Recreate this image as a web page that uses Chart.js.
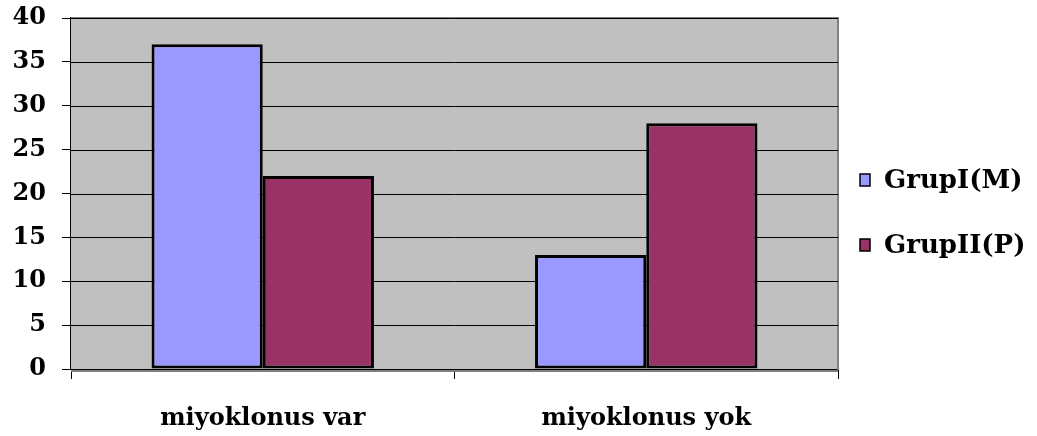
<!DOCTYPE html>
<html>
<head>
<meta charset="utf-8">
<style>
  html, body { margin: 0; padding: 0; background: #ffffff; }
  #wrap { width: 1037px; height: 436px; }
</style>
<script src="https://cdn.jsdelivr.net/npm/chart.js@4/dist/chart.umd.min.js"></script>
</head>
<body>
<div id="wrap"><canvas id="c" width="1037" height="436"></canvas></div>
<script>
const categories = ['miyoklonus var', 'miyoklonus yok'];
const grupI = [37, 13];
const grupII = [22, 28];
const seriesNames = ['GrupI(M)', 'GrupII(P)'];
const seriesColors = ['#9999FF', '#993366'];
const yTicks = [0, 5, 10, 15, 20, 25, 30, 35, 40];

const FONT = "'DejaVu Serif', 'Liberation Serif', serif";

// gray plot background plus a darker frame on top and right
const plotFrame = {
  id: 'plotFrame',
  beforeDatasetsDraw(chart) {
    const { ctx, chartArea: a } = chart;
    ctx.save();
    ctx.fillStyle = '#C0C0C0';
    ctx.fillRect(a.left, a.top, a.right - a.left, a.bottom - a.top);
    ctx.strokeStyle = '#808080';
    ctx.lineWidth = 2;
    ctx.beginPath();
    ctx.moveTo(a.left, a.top);
    ctx.lineTo(a.right, a.top);
    ctx.lineTo(a.right, a.bottom + 1);
    ctx.stroke();
    ctx.beginPath();
    ctx.moveTo(a.left, a.bottom + 2);
    ctx.lineTo(a.right, a.bottom + 2);
    ctx.stroke();
    // horizontal gridlines drawn over the fill
    const y = chart.scales.y;
    ctx.strokeStyle = '#000000';
    ctx.lineWidth = 1;
    yTicks.forEach(v => {
      if (v === 0) return;
      const py = Math.round(y.getPixelForValue(v)) + 0.5;
      ctx.beginPath();
      ctx.moveTo(a.left, py);
      ctx.lineTo(a.right, py);
      ctx.stroke();
    });
    ctx.restore();
  }
};

// legend on the right, one row per dataset
const sideLegend = {
  id: 'sideLegend',
  afterDraw(chart) {
    const { ctx } = chart;
    const rows = [180, 245];
    ctx.save();
    chart.data.datasets.forEach((ds, i) => {
      const cy = rows[i];
      ctx.fillStyle = ds.backgroundColor;
      ctx.fillRect(860, cy - 6, 10, 12);
      ctx.strokeStyle = '#000000';
      ctx.lineWidth = 1.5;
      ctx.strokeRect(860, cy - 6, 10, 12);
      ctx.fillStyle = '#000000';
      ctx.font = 'bold 26px ' + FONT;
      ctx.textBaseline = 'middle';
      ctx.textAlign = 'left';
      ctx.fillText(ds.label, 884, cy + 1);
    });
    ctx.restore();
  }
};

new Chart(document.getElementById('c'), {
  type: 'bar',
  data: {
    labels: categories,
    datasets: [
      { label: seriesNames[0], data: grupI, backgroundColor: seriesColors[0] },
      { label: seriesNames[1], data: grupII, backgroundColor: seriesColors[1] }
    ]
  },
  options: {
    responsive: false,
    animation: false,
    devicePixelRatio: 1,
    layout: { padding: { left: 0, top: 18, right: 199, bottom: 0 } },
    datasets: {
      bar: {
        borderColor: '#000000',
        borderWidth: 3,
        borderSkipped: false,
        categoryPercentage: 0.58,
        barPercentage: 1.0
      }
    },
    plugins: {
      legend: { display: false },
      tooltip: { enabled: false }
    },
    scales: {
      x: {
        offset: true,
        grid: {
          offset: true,
          drawOnChartArea: false,
          drawTicks: true,
          tickLength: 10,
          color: '#000000',
          lineWidth: 1
        },
        border: { display: true, color: '#000000', width: 2 },
        ticks: {
          color: '#000000',
          font: { family: FONT, size: 24, weight: 'bold' },
          padding: 25,
          maxRotation: 0
        },
        afterFit(scale) {
          scale.height = 67;
          scale.paddingLeft = 0;
          scale.paddingRight = 0;
        }
      },
      y: {
        min: 0,
        max: 40,
        afterBuildTicks(scale) { scale.ticks = yTicks.map(v => ({ value: v })); },
        grid: {
          drawOnChartArea: false,
          drawTicks: true,
          tickLength: 9,
          color: '#000000',
          lineWidth: 1
        },
        border: { display: true, color: '#000000', width: 2 },
        ticks: {
          color: '#000000',
          font: { family: FONT, size: 24, weight: 'bold' },
          padding: 16
        },
        afterFit(scale) {
          scale.width = 71;
          scale.paddingTop = 0;
          scale.paddingBottom = 0;
        }
      }
    }
  },
  plugins: [plotFrame, sideLegend]
});
</script>
</body>
</html>
